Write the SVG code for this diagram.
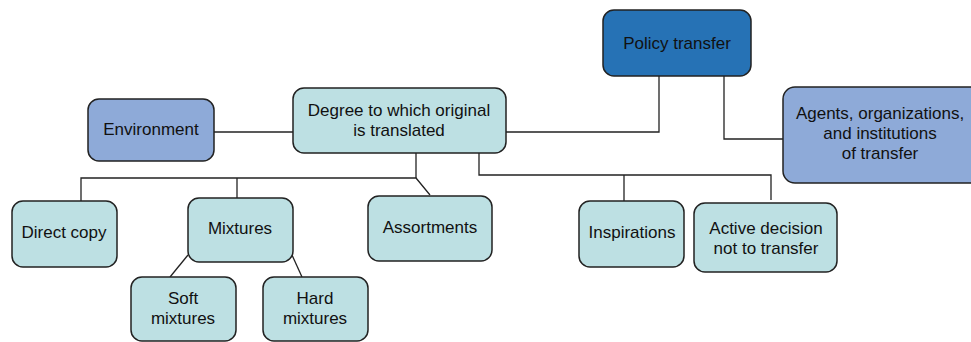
<svg xmlns="http://www.w3.org/2000/svg" width="971" height="342" viewBox="0 0 971 342">
<style>
.box{stroke:#222;stroke-width:1.5}
.dark{fill:#2672b5}
.mid{fill:#8eaad8}
.light{fill:#bde0e3}
text{font-family:"Liberation Sans",Arial,sans-serif;font-size:17px;fill:#111;text-anchor:middle}
.c{fill:none;stroke:#222;stroke-width:1.3}
</style>
<rect width="971" height="342" fill="#fff"/>
<g id="connectors">
<polyline class="c" points="659,76 659,132 506,132"/>
<polyline class="c" points="724,76 724,139 783,139"/>
<line class="c" x1="214" y1="132" x2="293" y2="132"/>
<polyline class="c" points="416,153 416,178"/>
<polyline class="c" points="81,201 81,178 416,178 430,195"/>
<line class="c" x1="237" y1="178" x2="237" y2="198"/>
<polyline class="c" points="479,153 479,175 771,175 771,200"/>
<line class="c" x1="624" y1="175" x2="624" y2="201"/>
<line class="c" x1="188" y1="255" x2="170" y2="277"/>
<line class="c" x1="292" y1="255" x2="302" y2="277"/>
</g>
<g id="policy-transfer">
<rect class="box dark" x="603" y="10" width="148" height="66" rx="11"/>
<text x="677" y="49">Policy transfer</text>
</g>
<g id="agents">
<rect class="box mid" x="783" y="87" width="200" height="96" rx="12"/>
<text x="880" y="119">Agents, organizations,</text>
<text x="880" y="139">and institutions</text>
<text x="880" y="159">of transfer</text>
</g>
<g id="environment">
<rect class="box mid" x="88" y="99" width="126" height="62" rx="11"/>
<text x="151" y="135">Environment</text>
</g>
<g id="degree">
<rect class="box light" x="293" y="88" width="213" height="65" rx="11"/>
<text x="399" y="116">Degree to which original</text>
<text x="399" y="136">is translated</text>
</g>
<g id="direct-copy">
<rect class="box light" x="12" y="201" width="105" height="66" rx="11"/>
<text x="64" y="238">Direct copy</text>
</g>
<g id="mixtures">
<rect class="box light" x="188" y="198" width="105" height="64" rx="11"/>
<text x="240" y="234">Mixtures</text>
</g>
<g id="assortments">
<rect class="box light" x="368" y="196" width="124" height="65" rx="11"/>
<text x="430" y="233">Assortments</text>
</g>
<g id="soft-mixtures">
<rect class="box light" x="131" y="277" width="105" height="64" rx="11"/>
<text x="183" y="304">Soft</text>
<text x="183" y="324">mixtures</text>
</g>
<g id="hard-mixtures">
<rect class="box light" x="263" y="277" width="105" height="64" rx="11"/>
<text x="315" y="304">Hard</text>
<text x="315" y="324">mixtures</text>
</g>
<g id="inspirations">
<rect class="box light" x="579" y="201" width="105" height="66" rx="11"/>
<text x="632" y="238">Inspirations</text>
</g>
<g id="active-decision">
<rect class="box light" x="694" y="203" width="143" height="69" rx="11"/>
<text x="766" y="234">Active decision</text>
<text x="766" y="254">not to transfer</text>
</g>
</svg>
